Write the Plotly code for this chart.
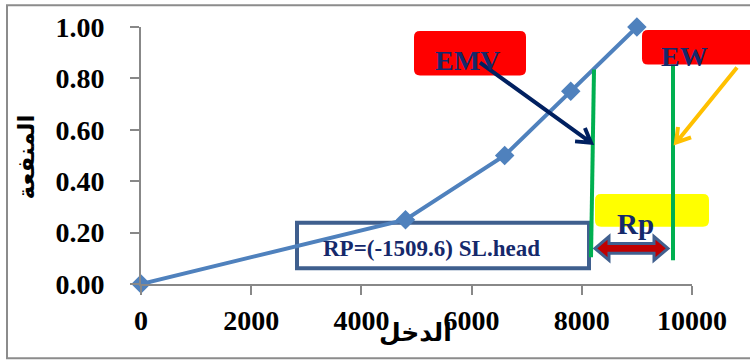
import math
import plotly.graph_objects as go

# Utility curve: income vs. utility
income = [0, 4800, 6600, 7800, 9000]
utility = [0.00, 0.25, 0.50, 0.75, 1.00]

x_ticks = [0, 2000, 4000, 6000, 8000, 10000]
y_ticks = [0.0, 0.2, 0.4, 0.6, 0.8, 1.0]
y_tick_text = ["0.00", "0.20", "0.40", "0.60", "0.80", "1.00"]

x_title = "الدخل"
y_title = "المنفعة"
emv_label = "EMV"
ew_label = "EW"
rp_label = "Rp"
rp_formula = "RP=(-1509.6) SL.head"

# Plot-area geometry in pixels
W, H = 750, 362
L, R, T, B = 141, 58, 24, 78
PW, PH = W - L - R, H - T - B


def px(x):
    return (x - L) / PW


def py(y):
    return (H - B - y) / PH


def path_from_px(points, close=False):
    s = " ".join(("M" if i == 0 else "L") + f" {px(x):.5f},{py(y):.5f}" for i, (x, y) in enumerate(points))
    return s + (" Z" if close else "")


def rounded_rect(x0, y0, x1, y1, r):
    rx, ry = r / PW, r / PH
    a, b, c, d = px(x0), px(x1), py(y1), py(y0)  # left, right, bottom, top
    return (f"M {a+rx},{d} L {b-rx},{d} Q {b},{d} {b},{d-ry} L {b},{c+ry} "
            f"Q {b},{c} {b-rx},{c} L {a+rx},{c} Q {a},{c} {a},{c+ry} "
            f"L {a},{d-ry} Q {a},{d} {a+rx},{d} Z")


def arrow_path(x0, y0, x1, y1, head=16, spread=0.55):
    ang = math.atan2(y1 - y0, x1 - x0)
    pts_a = (x1 - head * math.cos(ang - spread), y1 - head * math.sin(ang - spread))
    pts_b = (x1 - head * math.cos(ang + spread), y1 - head * math.sin(ang + spread))
    return (path_from_px([(x0, y0), (x1, y1)]) + " " +
            path_from_px([pts_a, (x1, y1), pts_b]))


fig = go.Figure()

fig.add_trace(go.Scatter(
    x=income, y=utility, mode="lines+markers",
    line=dict(color="#4F81BD", width=4),
    marker=dict(symbol="diamond", size=15, color="#4F81BD"),
    cliponaxis=False, showlegend=False, hoverinfo="x+y",
))

navy_text = "#15296B"
shapes = [
    # outer chart frame
    dict(type="rect", xref="paper", yref="paper", x0=px(7), x1=px(770), y0=py(359), y1=py(2),
         line=dict(color="#8C8C8C", width=2), layer="below"),
    # RP formula box
    dict(type="rect", xref="paper", yref="paper", x0=px(297), x1=px(589), y0=py(268), y1=py(222),
         line=dict(color="#3F5F8E", width=4), fillcolor="rgba(0,0,0,0)", layer="below"),
    # EMV / EW labels
    dict(type="path", xref="paper", yref="paper", path=rounded_rect(414, 28, 526, 73, 6),
         fillcolor="#FF0000", line=dict(width=0)),
    dict(type="path", xref="paper", yref="paper", path=rounded_rect(642, 27, 780, 62, 6),
         fillcolor="#FF0000", line=dict(width=0)),
    # yellow Rp label
    dict(type="path", xref="paper", yref="paper", path=rounded_rect(595, 193, 709, 226, 6),
         fillcolor="#FFFF00", line=dict(width=0)),
    # EMV and EW vertical markers
    dict(type="line", xref="paper", yref="paper", x0=px(594), y0=py(67), x1=px(591), y1=py(257),
         line=dict(color="#00B050", width=4)),
    dict(type="line", xref="paper", yref="paper", x0=px(673), y0=py(62), x1=px(673), y1=py(260),
         line=dict(color="#00B050", width=4)),
    # arrows
    dict(type="path", xref="paper", yref="paper", path=arrow_path(480, 60, 591, 141),
         line=dict(color="#002060", width=4)),
    dict(type="path", xref="paper", yref="paper", path=arrow_path(737, 65, 676, 141),
         line=dict(color="#FFC000", width=4)),
    # double-headed block arrow between EMV and EW
    dict(type="path", xref="paper", yref="paper",
         path=path_from_px([(595, 248), (609, 236), (609, 243), (654, 243), (654, 236), (668, 248),
                            (654, 260), (654, 253), (609, 253), (609, 260)], close=True),
         fillcolor="#C00000", line=dict(color="#41608F", width=3)),
]

serif = "Liberation Serif, Times New Roman, DejaVu Serif, DejaVu Sans"


def label(text, x, y, size, family=serif, color=navy_text, angle=0):
    return dict(text=f"<b>{text}</b>", x=px(x), y=py(y), xref="paper", yref="paper",
                xanchor="center", yanchor="middle", showarrow=False, textangle=angle,
                font=dict(family=family, size=size, color=color))


annotations = [
    label(emv_label, 467, 58, 28),
    label(ew_label, 684, 54, 28),
    label(rp_label, 635, 223, 29),
    label(rp_formula, 431, 248, 23),
    label(x_title, 415, 333, 25, family="DejaVu Sans", color="black"),
    label(y_title, 26, 156, 23, family="DejaVu Sans", color="black", angle=-90),
]

axis_font = dict(family=serif, size=28, color="black", weight=700)
fig.update_layout(
    width=W, height=H,
    margin=dict(l=L, r=R, t=T, b=B),
    paper_bgcolor="white", plot_bgcolor="white",
    shapes=shapes, annotations=annotations,
    xaxis=dict(range=[0, 10000], tickvals=x_ticks, ticktext=[str(v) for v in x_ticks],
               showgrid=False, zeroline=False, showline=True, linecolor="#888888", linewidth=2,
               ticks="outside", ticklen=9, tickwidth=2, tickcolor="#888888",
               tickfont=axis_font, ticklabelstandoff=1, fixedrange=True),
    yaxis=dict(range=[0, 1], tickvals=y_ticks, ticktext=y_tick_text,
               showgrid=False, zeroline=False, showline=True, linecolor="#888888", linewidth=2,
               ticks="outside", ticklen=9, tickwidth=2, tickcolor="#888888",
               tickfont=axis_font, ticklabelstandoff=20, fixedrange=True),
)

fig.write_html("out.html")
